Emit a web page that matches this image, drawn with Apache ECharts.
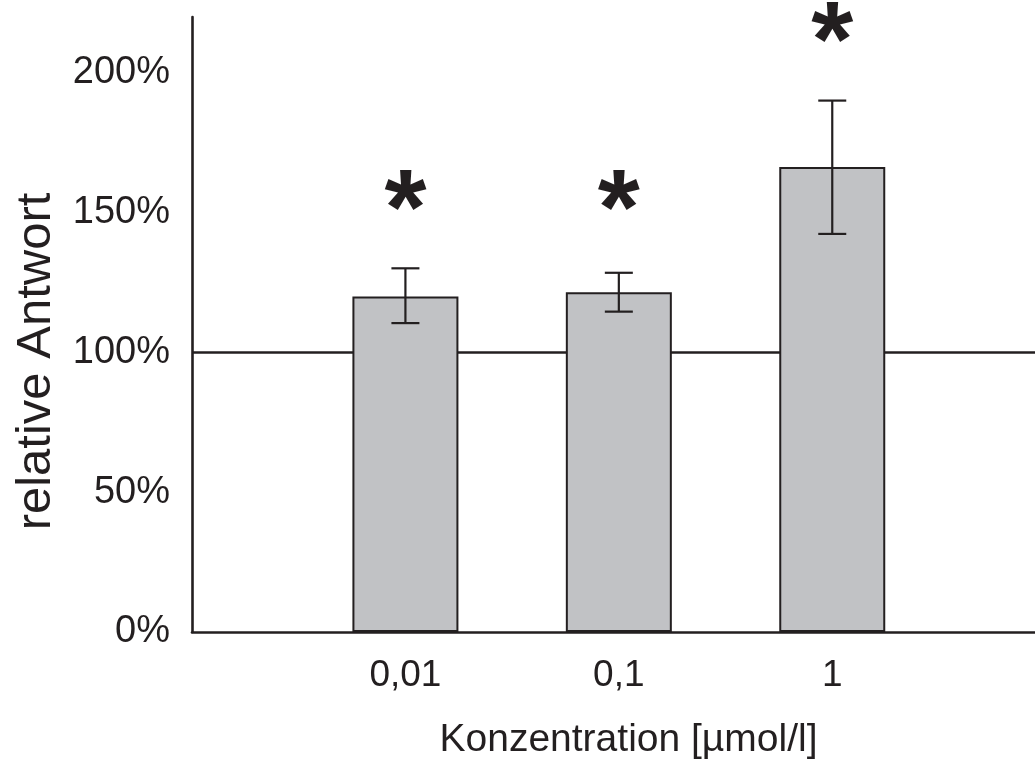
<!DOCTYPE html>
<html>
<head>
<meta charset="utf-8">
<script src="https://cdn.jsdelivr.net/npm/echarts@6/dist/echarts.min.js"></script>
<style>
  html, body { margin: 0; padding: 0; background: #fff; }
  #chart { width: 1035px; height: 765px; }
</style>
</head>
<body>
<div id="chart"></div>
<script>
// concentrations (µmol/l), placed at x = 1, 2, 3
const categories = ["0,01", "0,1", "1"];
const positions = [1, 2, 3];
// relative response in %
const means = [120, 121.5, 166.3];
const errLow = [110.5, 114.6, 142.4];
const errHigh = [130.1, 128.5, 190.1];
// where the significance stars sit (%)
const starLevels = [156, 156, 216];
const baseline = 100;
const yTicks = [0, 50, 100, 150, 200];

const INK = "#231f20";
const FONT = "'Liberation Sans', Arial, sans-serif";

const chart = echarts.init(document.getElementById("chart"), null, { renderer: "canvas" });

const option = {
  animation: false,
  backgroundColor: "#ffffff",
  grid: { left: 192, right: 0, top: 17, bottom: 132 },
  xAxis: {
    type: "value",
    min: 0,
    max: 3.95,
    interval: 1,
    name: "Konzentration [µmol/l]",
    nameLocation: "middle",
    nameGap: 89,
    nameTextStyle: { color: INK, fontFamily: FONT, fontSize: 39, padding: [0, 0, 0, 30] },
    axisLine: { show: true, lineStyle: { color: INK, width: 2.6 } },
    axisTick: { show: false },
    splitLine: { show: false },
    axisLabel: {
      color: INK,
      fontFamily: FONT,
      fontSize: 37,
      margin: 25,
      showMaxLabel: false,
      formatter: (v) => {
        const i = positions.indexOf(v);
        return i >= 0 ? categories[i] : "";
      },
    },
  },
  yAxis: {
    type: "value",
    min: 0,
    max: 220,
    interval: 50,
    name: "relative Antwort",
    nameLocation: "middle",
    nameGap: 131,
    nameTextStyle: { color: INK, fontFamily: FONT, fontSize: 49, padding: [0, 74, 0, 0] },
    axisLine: { show: true, lineStyle: { color: INK, width: 2.6 } },
    axisTick: { show: false },
    splitLine: { show: false },
    axisLabel: {
      color: INK,
      fontFamily: FONT,
      fontSize: 38,
      margin: 22,
      showMaxLabel: false,
      formatter: (v) => (yTicks.includes(v) ? v + "%" : ""),
    },
  },
  series: [
    {
      // 100 % reference line, behind the bars
      type: "line",
      data: [],
      z: 1,
      markLine: {
        z: 1,
        silent: true,
        symbol: ["none", "none"],
        label: { show: false },
        lineStyle: { color: INK, width: 2.6, type: "solid" },
        data: [{ yAxis: baseline }],
      },
    },
    {
      type: "bar",
      z: 2,
      barWidth: 106,
      data: positions.map((x, i) => [x, means[i]]),
      itemStyle: { color: "#c1c2c5", borderColor: INK, borderWidth: 2 },
    },
    {
      // error bars
      type: "custom",
      z: 3,
      data: positions.map((x, i) => [x, errLow[i], errHigh[i]]),
      renderItem: (params, api) => {
        const lo = api.coord([api.value(0), api.value(1)]);
        const hi = api.coord([api.value(0), api.value(2)]);
        const cap = 14;
        const style = { stroke: INK, lineWidth: 2.2 };
        return {
          type: "group",
          children: [
            { type: "line", shape: { x1: hi[0], y1: hi[1], x2: lo[0], y2: lo[1] }, style },
            { type: "line", shape: { x1: hi[0] - cap, y1: hi[1], x2: hi[0] + cap, y2: hi[1] }, style },
            { type: "line", shape: { x1: lo[0] - cap, y1: lo[1], x2: lo[0] + cap, y2: lo[1] }, style },
          ],
        };
      },
    },
    {
      // significance stars
      type: "scatter",
      z: 4,
      symbolSize: 0,
      itemStyle: { opacity: 1 },
      data: positions.map((x, i) => [x, starLevels[i]]),
      label: {
        show: true,
        position: "inside",
        formatter: "*",
        color: INK,
        fontFamily: FONT,
        fontWeight: "bold",
        fontSize: 108,
        offset: [0, 18],
      },
    },
  ],
};

chart.setOption(option);
</script>
</body>
</html>
